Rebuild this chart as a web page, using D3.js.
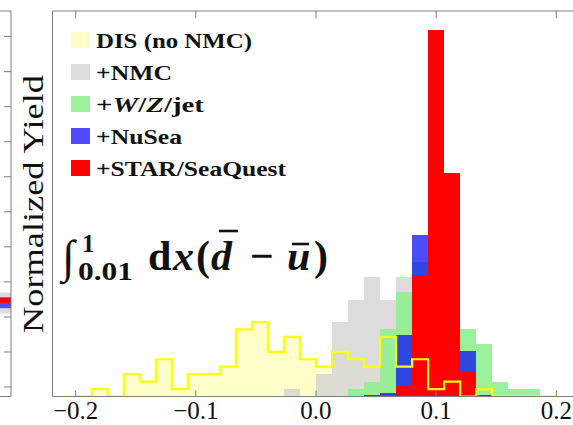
<!DOCTYPE html>
<html><head><meta charset="utf-8">
<script src="https://cdn.jsdelivr.net/npm/d3@7/dist/d3.min.js"></script>
<style>body{margin:0;background:#fff;overflow:hidden} svg{display:block}</style>
</head><body>
<script>
// ---- data (percent of replicas per bin) ----
const binEdges = d3.range(31).map(i => -0.2 + i * 0.4 / 30);
const disNoNMC   = [0,1,0,3,2,5,1,3,3,4,9,10,6,8,5,4,6,5,4,8,4,5,1,2,0,1,0,0,0,0];
const plusNMC    = [0,0,0,0,0,0,0,0,0,0,0,0,0,1,0,3,10,13,16,13,16,14,8,4,2,0,0,0,0,0];
const plusWZjet  = [0,0,0,0,0,0,0,0,0,0,0,0,0,0,0,0,0,1,2,9,14,18,22,14,9,7,2,1,1,0];
const plusNuSea  = [0,0,0,0,0,0,0,0,0,0,0,0,0,0,0,0,0,0,0,0.5,8.2,21.7,38,25.5,6.1,0,0,0,0,0];
const plusSTAR   = [0,0,0,0,0,0,0,0,0,0,0,0,0,0,0,0,0,0,0.2,0,1.5,16.3,49.2,30,3.3,0.15,0,0,0,0];
const xTicks = [-0.2, -0.1, 0.0, 0.1, 0.2];
const legendLabels = ["DIS (no NMC)", "+NMC", "+W/Z/jet", "+NuSea", "+STAR/SeaQuest"];
// neighbouring (cropped) panel on the left
const leftTicks = [0,1,2,3,4,5,6,7,8,9,10];
const leftBands = [{lo:2.1, hi:2.7, c:"#dcdcdc"}, {lo:2.4, hi:2.56, c:"#ff0000"}, {lo:2.25, hi:2.4, c:"#4d4dff"}];

const W = 573, H = 425;
const svg = d3.select("body").append("svg").attr("width", W).attr("height", H);

const plotL = 52.5, plotT = 11, plotB = 396.5;
const x = d3.scaleLinear().domain([-0.2193, 0.2139]).range([plotL, W]);
const y = d3.scaleLinear().domain([0, 51.75]).range([plotB, plotT]);

const frameCol = "#7f7f7f";
const serif = "Liberation Serif";

// ---- left cropped panel ----
const ly = d3.scaleLinear().domain([-0.27, 10.73]).range([plotB, plotT]);
svg.append("g").selectAll("rect").data(leftBands).join("rect")
  .attr("x", 0).attr("width", 11)
  .attr("y", d => ly(d.hi)).attr("height", d => ly(d.lo) - ly(d.hi))
  .attr("fill", d => d.c);
svg.append("path").attr("d", `M0,${plotT}H11V${plotB}H0`).attr("fill", "none").attr("stroke", frameCol);
svg.append("g").selectAll("line").data(leftTicks).join("line")
  .attr("x1", 4).attr("x2", 11).attr("y1", d => ly(d)).attr("y2", d => ly(d))
  .attr("stroke", frameCol);

// ---- histograms ----
svg.append("clipPath").attr("id", "c").append("rect")
  .attr("x", plotL).attr("y", plotT).attr("width", W - plotL).attr("height", plotB - plotT);
const g = svg.append("g").attr("clip-path", "url(#c)");

function bars(vals, fill, op) {
  g.append("g").attr("shape-rendering", "crispEdges").selectAll("rect").data(vals).join("rect")
    .attr("x", (d, i) => x(binEdges[i]))
    .attr("width", (d, i) => x(binEdges[i + 1]) - x(binEdges[i]))
    .attr("y", d => y(d)).attr("height", d => y(0) - y(d))
    .attr("fill", fill).attr("fill-opacity", op);
}
bars(disNoNMC, "#ffff00", 0.2);
bars(plusNMC, "#d3d3d3", 0.8);
bars(plusWZjet, "#90ee90", 0.9);
bars(plusNuSea, "#0000ff", 0.7);
bars(plusSTAR, "#ff0000", 1);

// yellow step outline
let pts = [[x(binEdges[0]), y(0)]];
disNoNMC.forEach((v, i) => { pts.push([x(binEdges[i]), y(v)]); pts.push([x(binEdges[i + 1]), y(v)]); });
pts.push([x(binEdges[30]), y(0)]);
g.append("path").attr("d", d3.line()(pts)).attr("fill", "none")
  .attr("stroke", "#ffff00").attr("stroke-width", 2.2).attr("stroke-linejoin", "miter");

// ---- frame & axes ----
svg.append("path").attr("d", `M${W},${plotT}H${plotL}V${plotB}H${W}`)
  .attr("fill", "none").attr("stroke", frameCol).attr("stroke-width", 1);
svg.append("g").selectAll("line").data(xTicks).join("line")
  .attr("x1", d => x(d)).attr("x2", d => x(d)).attr("y1", plotB).attr("y2", plotB - 6)
  .attr("stroke", frameCol);
svg.append("g").selectAll("line").data(xTicks).join("line")
  .attr("x1", d => x(d)).attr("x2", d => x(d)).attr("y1", plotT).attr("y2", plotT + 7)
  .attr("stroke", frameCol);
svg.append("g").selectAll("text").data(xTicks).join("text")
  .attr("x", d => x(d)).attr("y", 419).attr("text-anchor", "middle")
  .attr("font-family", serif).attr("font-size", 25).attr("fill", "#111")
  .text(d => (d < 0 ? "\u2212" : "") + Math.abs(d).toFixed(1));

// y label
svg.append("text").attr("transform", "translate(43,204) rotate(-90)")
  .attr("text-anchor", "middle").attr("font-family", serif).attr("font-size", 30)
  .attr("textLength", 258).attr("lengthAdjust", "spacingAndGlyphs")
  .attr("fill", "#111").text("Normalized Yield");

// ---- legend ----
const legCols = ["#ffffcc", "#dcdcdc", "#9bf09b", "#4d4dff", "#ff0000"];
const legWidths = [156, 76, 108, 86, 190];
const leg = svg.append("g");
legendLabels.forEach((lab, i) => {
  const cy = 40 + i * 32;
  leg.append("rect").attr("x", 71).attr("y", cy - 8).attr("width", 19).attr("height", 16).attr("fill", legCols[i]);
  const t = leg.append("text").attr("x", 96).attr("y", cy + 7.7)
    .attr("font-family", serif).attr("font-weight", "bold").attr("font-size", 21.5)
    .attr("textLength", legWidths[i]).attr("lengthAdjust", "spacingAndGlyphs").attr("fill", "#111");
  if (lab === "+W/Z/jet") {
    t.append("tspan").text("+");
    t.append("tspan").attr("font-style", "italic").text("W");
    t.append("tspan").text("/");
    t.append("tspan").attr("font-style", "italic").text("Z");
    t.append("tspan").text("/jet");
  } else t.text(lab);
});

// ---- formula ----
const fm = svg.append("g").attr("font-family", serif).attr("font-weight", "bold").attr("fill", "#111");
fm.append("text").attr("x", 62).attr("y", 272).attr("font-size", 46).attr("font-weight", "normal").text("\u222B");
fm.append("text").attr("x", 82).attr("y", 252).attr("font-size", 25).text("1");
fm.append("text").attr("x", 78).attr("y", 280).attr("font-size", 26)
  .attr("textLength", 55).attr("lengthAdjust", "spacingAndGlyphs").text("0.01");
const glyphs = [
  {t: "d", x: 148, it: false}, {t: "x", x: 173, it: true}, {t: "(", x: 196, it: false},
  {t: "d", x: 211, it: true}, {t: "\u2212", x: 250, it: false}, {t: "u", x: 287, it: true},
  {t: ")", x: 314, it: false}
];
glyphs.forEach(gl => fm.append("text").attr("x", gl.x).attr("y", 270).attr("font-size", 42)
  .attr("font-style", gl.it ? "italic" : "normal").text(gl.t));
fm.append("line").attr("x1", 219).attr("x2", 238).attr("y1", 231).attr("y2", 231).attr("stroke", "#111").attr("stroke-width", 2.6);
fm.append("line").attr("x1", 292).attr("x2", 309).attr("y1", 244).attr("y2", 244).attr("stroke", "#111").attr("stroke-width", 2.6);
</script>
</body></html>
